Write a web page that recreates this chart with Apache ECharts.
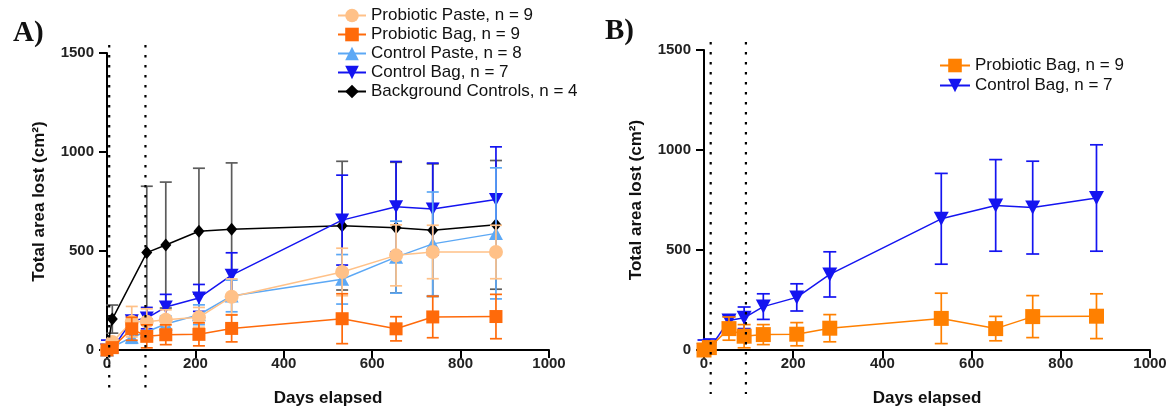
<!DOCTYPE html>
<html><head><meta charset="utf-8">
<script src="https://cdn.jsdelivr.net/npm/echarts@6/dist/echarts.min.js"></script>
<style>html,body{margin:0;padding:0;background:#fff}#c{width:1171px;height:412px}</style>
</head><body><div id="c"></div><script>
// ---- data ----
const days = [0, 12, 56, 90, 133, 208, 282, 532, 654, 737, 880];
const bgDays = [0, 12, 90, 133, 208, 282, 532, 654, 737, 880];

const probPasteMean = [0, 40, 143, 143, 153, 165, 269, 394, 478, 495, 495];
const probPasteSD   = [10, 15, 77, 65, 50, 50, 90, 120, 154, 135, 135];

const probBagMean = [0, 12, 107, 69, 77, 79, 109, 158, 107, 167, 169];
const probBagSD   = [5, 10, 58, 58, 50, 58, 68, 126, 61, 105, 112];

const ctrlPasteMean = [0, 15, 64, 92, 131, 178, 273, 357, 469, 536, 589];
const ctrlPasteSD   = [5, 10, 30, 40, 40, 50, 80, 125, 182, 262, 331];

const ctrlBagMean = [0, 5, 148, 161, 217, 263, 378, 656, 723, 712, 760];
const ctrlBagSD   = [50, 50, 20, 54, 64, 68, 113, 227, 229, 232, 266];

const bgMean = [0, 156, 492, 530, 600, 610, 628, 618, 605, 632];
const bgSD   = [0, 71, 335, 318, 318, 335, 325, 330, 335, 325];

const dottedA = [5, 87];
const dottedB = [15, 94];

const namesA = ['Probiotic Paste, n = 9', 'Probiotic Bag, n = 9', 'Control Paste, n = 8', 'Control Bag, n = 7', 'Background Controls, n = 4'];
const namesB = ['B:Probiotic Bag, n = 9', 'B:Control Bag, n = 7'];
const yTitle = 'Total area lost (cm²)';
const xTitle = 'Days elapsed';

// ---- helpers ----
const FONT = 'Liberation Sans, Arial, sans-serif';
const downTri = 'path://M0,0 L10,0 L5,9 Z';

function lineSeries(name, xs, ys, color, idx, symbol, size, z) {
  return {
    type: 'line', name: name, xAxisIndex: idx, yAxisIndex: idx,
    data: xs.map((x, i) => [x, ys[i]]),
    symbol: symbol, symbolSize: size, showSymbol: true,
    lineStyle: {color: color, width: 1.5},
    itemStyle: {color: color, borderWidth: 0},
    z: z, animation: false, clip: false
  };
}
function errSeries(xs, ys, es, color, idx, z, cap) {
  return {
    type: 'custom', xAxisIndex: idx, yAxisIndex: idx, z: z, silent: true, animation: false,
    data: xs.map((x, i) => [x, ys[i], es[i]]),
    renderItem: function (params, api) {
      const x = api.value(0), y = api.value(1), e = api.value(2);
      const t = api.coord([x, y + e]);
      const b = api.coord([x, Math.max(y - e, 0)]);
      const st = {stroke: color, lineWidth: 1.7};
      return {type: 'group', children: [
        {type: 'line', shape: {x1: t[0], y1: t[1], x2: b[0], y2: b[1]}, style: st},
        {type: 'line', shape: {x1: t[0] - cap, y1: t[1], x2: t[0] + cap, y2: t[1]}, style: st},
        {type: 'line', shape: {x1: b[0] - cap, y1: b[1], x2: b[0] + cap, y2: b[1]}, style: st}
      ]};
    }
  };
}
function dotSeries(xs, idx) {
  return {
    type: 'custom', xAxisIndex: idx, yAxisIndex: idx, z: 30, silent: true, clip: false, animation: false,
    data: xs.map(x => [x, 0]),
    renderItem: function (params, api) {
      const t = api.coord([api.value(0), 1500]);
      const b = api.coord([api.value(0), 0]);
      return {type: 'line', shape: {x1: t[0], y1: t[1] - 8, x2: b[0], y2: b[1] + 44},
        style: {stroke: '#000', lineWidth: 2.2, lineDash: [2.5, 7.5]}};
    }
  };
}
function xAx(idx) {
  return {
    type: 'value', gridIndex: idx, min: 0, max: 1000, interval: 200,
    name: xTitle, nameLocation: 'middle', nameGap: 40,
    nameTextStyle: {fontFamily: FONT, fontWeight: 'bold', fontSize: 17, color: '#111'},
    axisLine: {show: true, lineStyle: {color: '#000', width: 2}},
    axisTick: {show: true, length: 8, lineStyle: {color: '#000', width: 2}},
    axisLabel: {fontFamily: FONT, fontWeight: 'bold', fontSize: 15, color: '#222', margin: 6,
      formatter: v => String(v)},
    splitLine: {show: false}
  };
}
function yAx(idx) {
  return {
    type: 'value', gridIndex: idx, min: 0, max: 1500, interval: 500,
    name: yTitle, nameLocation: 'middle', nameGap: 59,
    nameTextStyle: {fontFamily: FONT, fontWeight: 'bold', fontSize: 17, color: '#111'},
    axisLine: {show: true, lineStyle: {color: '#000', width: 2}},
    axisTick: {show: true, length: 8, lineStyle: {color: '#000', width: 2}},
    axisLabel: {fontFamily: FONT, fontWeight: 'bold', fontSize: 15, color: '#222', margin: 13,
      formatter: v => String(v)},
    splitLine: {show: false}
  };
}

const C = {
  probPaste: '#FFC188', probBagA: '#FF6A0A', probBagB: '#FF8000',
  ctrlPaste: '#5CA8F5', ctrlBag: '#1414F0', bg: '#000000', bgErr: '#5c5c5c'
};

const series = [
  // Panel A
  errSeries(bgDays, bgMean, bgSD, C.bgErr, 0, 2, 6),
  lineSeries(namesA[4], bgDays, bgMean, C.bg, 0, 'diamond', [11, 13], 3),
  errSeries(days, ctrlBagMean, ctrlBagSD, C.ctrlBag, 0, 4, 6),
  lineSeries(namesA[3], days, ctrlBagMean, C.ctrlBag, 0, downTri, [14, 13], 5),
  errSeries(days, ctrlPasteMean, ctrlPasteSD, C.ctrlPaste, 0, 6, 6),
  lineSeries(namesA[2], days, ctrlPasteMean, C.ctrlPaste, 0, 'triangle', [14, 13], 7),
  errSeries(days, probPasteMean, probPasteSD, C.probPaste, 0, 8, 6),
  lineSeries(namesA[0], days, probPasteMean, C.probPaste, 0, 'circle', 14, 9),
  errSeries(days, probBagMean, probBagSD, C.probBagA, 0, 10, 6),
  lineSeries(namesA[1], days, probBagMean, C.probBagA, 0, 'rect', 13, 11),
  dotSeries(dottedA, 0),
  // Panel B
  errSeries(days, ctrlBagMean, ctrlBagSD, C.ctrlBag, 1, 4, 6.5),
  lineSeries(namesB[1], days, ctrlBagMean, C.ctrlBag, 1, downTri, [15, 14], 5),
  errSeries(days, probBagMean, probBagSD, C.probBagB, 1, 10, 6.5),
  lineSeries(namesB[0], days, probBagMean, C.probBagB, 1, 'rect', 15, 11),
  dotSeries(dottedB, 1)
];

const chart = echarts.init(document.getElementById('c'), null, {renderer: 'canvas'});
chart.setOption({
  animation: false,
  backgroundColor: '#fff',
  title: [
    {text: 'A)', left: 8, top: 14, textStyle: {fontFamily: 'Liberation Serif, Times New Roman, serif', fontWeight: 'bold', fontSize: 29, color: '#111'}},
    {text: 'B)', left: 600, top: 12, textStyle: {fontFamily: 'Liberation Serif, Times New Roman, serif', fontWeight: 'bold', fontSize: 29, color: '#111'}}
  ],
  grid: [
    {left: 107, width: 442, top: 53, height: 299, containLabel: false},
    {left: 704, width: 446, top: 50, height: 301, containLabel: false}
  ],
  xAxis: [xAx(0), xAx(1)],
  yAxis: [yAx(0), yAx(1)],
  legend: [
    {left: 332, top: 2, orient: 'vertical', itemWidth: 28, itemHeight: 17, itemGap: 2,
     textStyle: {fontFamily: FONT, fontSize: 17, color: '#111', lineHeight: 17},
     data: namesA, selectedMode: false},
    {left: 934, top: 52, orient: 'vertical', itemWidth: 30, itemHeight: 17, itemGap: 3,
     textStyle: {fontFamily: FONT, fontSize: 17, color: '#111', lineHeight: 17},
     data: namesB, selectedMode: false, formatter: n => n.replace('B:', '')}
  ],
  series: series
});
</script></body></html>
